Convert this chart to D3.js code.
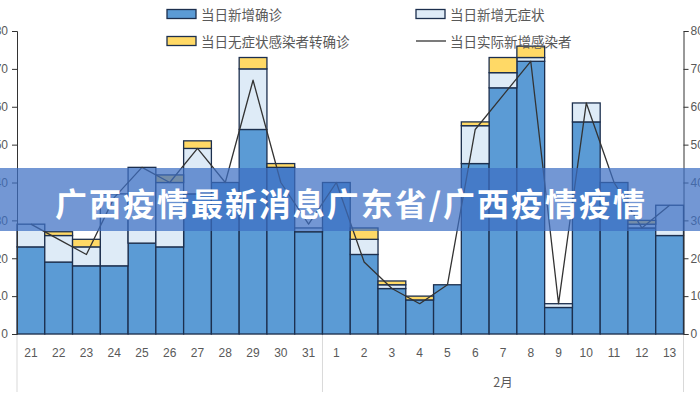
<!DOCTYPE html>
<html>
<head>
<meta charset="utf-8">
<script src="https://cdn.jsdelivr.net/npm/d3@7"></script>
<style>
  body { margin: 0; background: #fff; }
  svg { display: block; font-family: "Noto Sans CJK SC", "Noto Sans", sans-serif; }
</style>
</head>
<body>
<svg id="chart" width="700" height="400"></svg>
<script>
// days of Jan (21-31) and Feb (1-13)
const days = ["21","22","23","24","25","26","27","28","29","30","31",
  "1","2","3","4","5","6","7","8","9","10","11","12","13"];
const confirmed    = [23,19,18,18,24,23,37,40,54,44,27, 40,21,12,9,13,45,65,72,7,56,40,28,26];
const asymptomatic = [6,7,5,19,20,17,12,0,16,0,1, 0,4,1,0,0,10,4,1,1,5,0,1,8];
const converted    = [0,1,2,0,0,2,2,0,3,1,0, 0,3,1,1,0,1,4,3,0,0,0,1,0];
const actual       = [29,25,21,36,44,40,49,40,67,40,29, 40,19,12,8,13,54,63,72,8,61,40,28,34];
const yTicks = [0,10,20,30,40,50,60,70,80];
const groupLabel = "2月";
const seriesNames = ["当日新增确诊","当日新增无症状","当日无症状感染者转确诊","当日实际新增感染者"];
const title = "广西疫情最新消息广东省/广西疫情疫情";

const colors = { confirmed: "#5b9bd5", asymptomatic: "#deebf7", converted: "#ffd966" };
const edge = "#1c2f4e";

const svg = d3.select("#chart");
const margin = {top: 31, right: 17, bottom: 66, left: 17};
const width = +svg.attr("width");
const height = +svg.attr("height");

const x = d3.scaleBand()
  .domain(days)
  .range([margin.left, width - margin.right + 0.5])
  .padding(0);
const y = d3.scaleLinear()
  .domain([0, 80])
  .range([height - margin.bottom, margin.top]);

const rows = days.map((d, i) => ({
  day: d,
  confirmed: confirmed[i],
  asymptomatic: asymptomatic[i],
  converted: converted[i]
}));
const keys = ["confirmed", "asymptomatic", "converted"];
const stacked = d3.stack().keys(keys)(rows);

// category separators under the plot
const y0 = y(0);
const sep = [x.range()[0], x("1"), x.range()[1]];
svg.append("g")
  .selectAll("line")
  .data(sep)
  .join("line")
    .attr("x1", d => d).attr("x2", d => d)
    .attr("y1", y0).attr("y2", 392)
    .attr("stroke", "#d9d9d9");

svg.append("line")
  .attr("x1", x.range()[0]).attr("x2", x.range()[1])
  .attr("y1", y0).attr("y2", y0)
  .attr("stroke", "#d9d9d9");

// bars
svg.append("g")
  .selectAll("g")
  .data(stacked)
  .join("g")
    .attr("fill", d => colors[d.key])
  .selectAll("rect")
  .data(d => d)
  .join("rect")
    .attr("x", d => x(d.data.day))
    .attr("width", x.bandwidth())
    .attr("y", d => y(d[1]))
    .attr("height", d => y(d[0]) - y(d[1]))
    .attr("stroke", edge)
    .attr("stroke-width", 1.3);

// actual infections line
const line = d3.line()
  .x((d, i) => x(days[i]) + x.bandwidth() / 2)
  .y(d => y(d));

svg.append("path")
  .datum(actual)
  .attr("fill", "none")
  .attr("stroke", "#333")
  .attr("stroke-width", 1.3)
  .attr("stroke-linejoin", "round")
  .attr("d", line);

// axes
const yAxisL = g => g
  .attr("transform", `translate(${x.range()[0]},0)`)
  .call(d3.axisLeft(y).tickValues(yTicks).tickSize(5).tickPadding(4))
  .call(g => g.select(".domain").attr("stroke", "#333"));
const yAxisR = g => g
  .attr("transform", `translate(${x.range()[1]},0)`)
  .call(d3.axisRight(y).tickValues(yTicks).tickSize(5).tickPadding(2))
  .call(g => g.select(".domain").attr("stroke", "#333"));

svg.append("g").call(yAxisL);
svg.append("g").call(yAxisR);
svg.selectAll(".tick line").attr("stroke", "#333");
svg.selectAll(".tick text")
  .attr("fill", "#595959")
  .attr("font-size", 12)
  .attr("font-family", "Liberation Sans, sans-serif");

// day labels
svg.append("g")
  .selectAll("text")
  .data(days)
  .join("text")
    .attr("x", d => x(d) + x.bandwidth() / 2)
    .attr("y", 353)
    .attr("text-anchor", "middle")
    .attr("dominant-baseline", "central")
    .attr("fill", "#595959")
    .attr("font-size", 12)
    .attr("font-family", "Liberation Sans, sans-serif")
    .text(d => d);

svg.append("text")
  .attr("x", (x("1") + x.range()[1]) / 2)
  .attr("y", 381)
  .attr("text-anchor", "middle")
  .attr("dominant-baseline", "central")
  .attr("fill", "#595959")
  .attr("font-size", 12.5)
  .text(groupLabel);

// legend
const legendItems = [
  {name: seriesNames[0], type: "rect", fill: colors.confirmed, x: 167, y: 14},
  {name: seriesNames[1], type: "rect", fill: colors.asymptomatic, x: 416, y: 14},
  {name: seriesNames[2], type: "rect", fill: colors.converted, x: 167, y: 41},
  {name: seriesNames[3], type: "line", x: 416, y: 41}
];
const legend = svg.append("g")
  .selectAll("g")
  .data(legendItems)
  .join("g")
    .attr("transform", d => `translate(${d.x},${d.y})`);
legend.filter(d => d.type === "rect")
  .append("rect")
    .attr("x", 0).attr("y", -4.5)
    .attr("width", 29).attr("height", 9)
    .attr("fill", d => d.fill)
    .attr("stroke", edge)
    .attr("stroke-width", 1.3);
legend.filter(d => d.type === "line")
  .append("line")
    .attr("x1", 0).attr("x2", 30)
    .attr("stroke", "#333")
    .attr("stroke-width", 1.3);
legend.append("text")
  .attr("x", 34)
  .attr("dominant-baseline", "central")
  .attr("fill", "#595959")
  .attr("font-size", 13.5)
  .text(d => d.name);

// title banner over the chart
svg.append("rect")
  .attr("x", 0).attr("y", 168)
  .attr("width", width).attr("height", 63)
  .attr("fill", "#3d6fc4")
  .attr("opacity", 0.72);

svg.append("text")
  .attr("x", 350)
  .attr("y", 202)
  .attr("text-anchor", "middle")
  .attr("dominant-baseline", "central")
  .attr("fill", "#fff")
  .attr("font-size", 32)
  .attr("font-weight", 700)
  .attr("textLength", 590)
  .attr("lengthAdjust", "spacing")
  .text(title);
</script>
</body>
</html>
